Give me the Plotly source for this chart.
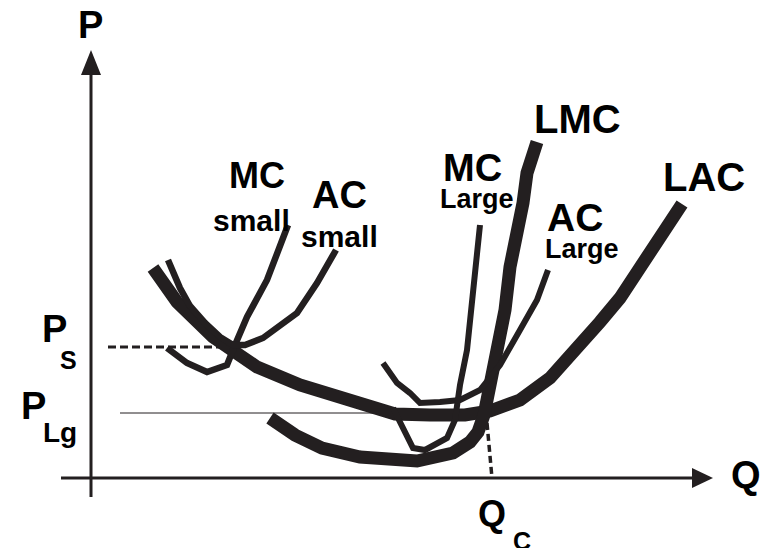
import plotly.graph_objects as go

# Curves in (Q, P) units (origin at axes crossing)
LAC_Q = [62, 86, 122, 166, 209, 249, 279, 304, 339, 374, 399, 429, 459, 482, 509, 529, 549, 569, 591]
LAC_P = [210, 176, 141, 111, 93, 80, 70, 64, 63, 63, 67, 78, 100, 128, 156, 180, 210, 242, 274]

LMC_Q = [179, 204, 231, 269, 326, 362, 379, 387, 393, 398, 403, 409, 414, 419, 427, 432, 436, 446]
LMC_P = [60, 43, 30, 21, 17, 25, 36, 46, 63, 85, 108, 133, 168, 211, 245, 275, 305, 336]

MCL_Q = [302, 322, 334, 356, 364, 369, 376, 382, 386, 389]
MCL_P = [70, 30, 28, 40, 58, 93, 128, 188, 218, 253]

ACL_Q = [292, 306, 319, 329, 349, 369, 389, 409, 429, 446, 457]
ACL_P = [115, 95, 85, 75, 76, 78, 88, 113, 148, 178, 208]

MCS_Q = [76, 96, 116, 136, 144, 156, 176, 197]
MCS_P = [130, 115, 106, 113, 133, 161, 198, 253]

ACS_Q = [77, 89, 99, 114, 129, 142, 154, 172, 206, 226, 245]
ACS_P = [218, 190, 172, 155, 141, 133, 133, 140, 165, 195, 228]

# Reference levels
PS_LINE_Q = [17, 144]
PS_LEVEL = 131
PLG_LINE_Q = [29, 399]
PLG_LEVEL = 65
QC_LINE_Q = [396, 401]
QC_LINE_P = [55, 0]

INK = "#231f20"

fig = go.Figure()

def add_line(xs, ys, width, dash=None):
    fig.add_trace(go.Scatter(
        x=xs, y=ys, mode="lines",
        line=dict(color=INK, width=width, dash=dash) if dash else dict(color=INK, width=width),
        hoverinfo="skip", showlegend=False))

# reference lines
add_line(PS_LINE_Q, [PS_LEVEL, PS_LEVEL], 3, "8px,4px")
add_line(PLG_LINE_Q, [PLG_LEVEL, PLG_LEVEL], 1)
add_line(QC_LINE_Q, QC_LINE_P, 3.5, "7px,4px")

# curves
add_line(LAC_Q, LAC_P, 13)
add_line(LMC_Q, LMC_P, 13)
add_line(MCL_Q, MCL_P, 6)
add_line(ACL_Q, ACL_P, 6)
add_line(MCS_Q, MCS_P, 6.5)
add_line(ACS_Q, ACS_P, 6.5)

shapes = [
    dict(type="line", x0=0, y0=-19, x1=0, y1=410, line=dict(color=INK, width=3)),
    dict(type="line", x0=-30, y0=0, x1=605, y1=0, line=dict(color=INK, width=3)),
    dict(type="path", path="M 0 428 L -10 403 L 10 403 Z", fillcolor=INK, line=dict(width=0)),
    dict(type="path", path="M 622 0 L 601 10 L 601 -10 Z", fillcolor=INK, line=dict(width=0)),
]

FONT = "Liberation Sans, Arial, sans-serif"
labels = [
    ("<b>P</b>", -1, 453, 38),
    ("<b>Q</b>", 655, 3, 38),
    ("<b>LMC</b>", 486, 359, 40),
    ("<b>LAC</b>", 613, 301, 40),
    ("<b>MC</b>", 381, 310, 38),
    ("<b>Large</b>", 386, 279, 27),
    ("<b>AC</b>", 484, 261, 39),
    ("<b>Large</b>", 491, 229, 27),
    ("<b>MC</b>", 166, 303, 36),
    ("<b>small</b>", 160, 258, 30),
    ("<b>AC</b>", 248, 283, 38),
    ("<b>small</b>", 248, 242, 30),
    ("<b>P</b>", -37, 149, 38),
    ("<b>S</b>", -23, 118, 25),
    ("<b>P</b>", -58, 72, 38),
    ("<b>Lg</b>", -31, 46, 28),
    ("<b>Q</b>", 401, -35, 36),
    ("<b>C</b>", 431, -63, 25),
]
annotations = [
    dict(text=t, x=x, y=y, xref="x", yref="y", showarrow=False,
         xanchor="center", yanchor="middle",
         font=dict(family=FONT, size=s, color="black"))
    for t, x, y, s in labels
]

# The page body has an 8px default margin; ranges are offset to compensate.
fig.update_layout(
    width=768, height=548,
    margin=dict(l=0, r=0, t=0, b=0),
    paper_bgcolor="white", plot_bgcolor="white",
    xaxis=dict(range=[-83, 685], visible=False, fixedrange=True),
    yaxis=dict(range=[-78, 470], visible=False, fixedrange=True),
    shapes=shapes, annotations=annotations,
    showlegend=False,
)

fig.write_html("out.html")
